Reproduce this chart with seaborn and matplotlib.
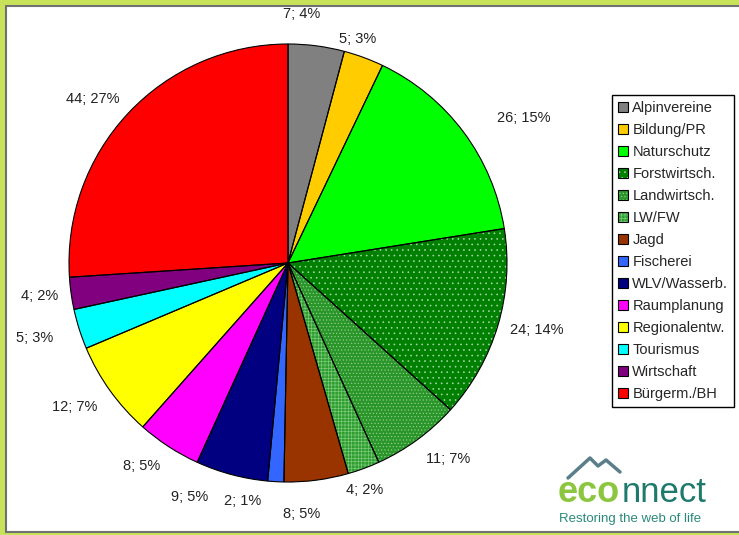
import numpy as np
import matplotlib.pyplot as plt
import seaborn as sns
from matplotlib.patches import Patch, Rectangle
from matplotlib.legend_handler import HandlerTuple

# Daten
categories = ['Alpinvereine', 'Bildung/PR', 'Naturschutz', 'Forstwirtsch.', 'Landwirtsch.',
              'LW/FW', 'Jagd', 'Fischerei', 'WLV/Wasserb.', 'Raumplanung', 'Regionalentw.',
              'Tourismus', 'Wirtschaft', 'Bürgerm./BH']
values = [7, 5, 26, 24, 11, 4, 8, 2, 9, 8, 12, 5, 4, 44]
pct_labels = ['4%', '3%', '15%', '14%', '7%', '2%', '5%', '1%', '5%', '5%', '7%', '3%', '2%', '27%']

# Stil
colors = ['#808080', '#FFCC00', '#00FF00', '#008000', '#2A962A', '#2E9E2E', '#993300',
          '#3366FF', '#000080', '#FF00FF', '#FFFF00', '#00FFFF', '#800080', '#FF0000']
hatches = ['', '', '', '...', '.....', '+++++', '', '', '', '', '', '', '', '']
hatch_colors = ['none', 'none', 'none', '#a8d8a8', '#90d090', '#80cc80',
                'none', 'none', 'none', 'none', 'none', 'none', 'none', 'none']
# Verschiebung der Beschriftungen in Pixeln (x nach rechts, y nach unten), wie in Excel
label_nudge = [(-17, -10), (-11, 3), (21, 2), (-3, 0), (0, 0), (-4, 0), (-17, 12),
               (-32, -3), (-38, 1), (0, 0), (0, 0), (-11, 4), (2, 0), (2, 3)]

sns.set_theme(style='white')
plt.rcParams['font.family'] = ['Liberation Sans', 'DejaVu Sans']
plt.rcParams['hatch.linewidth'] = 0.45

W, H = 739, 535
fig = plt.figure(figsize=(W / 100, H / 100), dpi=100, facecolor='#c8e25a')
# weisses Panel mit grauem Rand
fig.patches.append(Rectangle((6 / W, 3 / H), (W + 10) / W, (H - 9) / H, transform=fig.transFigure,
                             fc='white', ec='#707070', lw=1.5, zorder=-5))

cx, cy, r = 288, 263, 219
ax = fig.add_axes([(cx - r) / W, (H - cy - r) / H, 2 * r / W, 2 * r / H])
ax.set_zorder(2)
wedges, _ = ax.pie(values, colors=colors, startangle=90, counterclock=False,
                   wedgeprops=dict(lw=0))
for w, h, hc in zip(wedges, hatches, hatch_colors):
    if h:
        w.set_edgecolor(hc)
        w.set_hatch(h)
        w.set_linewidth(0)
# schwarze Umrisse
ax.pie(values, colors=['none'] * len(values), startangle=90, counterclock=False,
       wedgeprops=dict(ec='black', lw=0.8, fill=False))
ax.set_xlim(-1, 1)
ax.set_ylim(-1, 1)
ax.axis('off')

# Beschriftungen "Wert; Prozent"
for w, v, p, (dx, dy) in zip(wedges, values, pct_labels, label_nudge):
    ang = np.deg2rad((w.theta1 + w.theta2) / 2)
    c, s = np.cos(ang), np.sin(ang)
    ha = 'center' if abs(c) < 0.35 else ('left' if c > 0 else 'right')
    va = 'center' if abs(s) < 0.35 else ('bottom' if s > 0 else 'top')
    ax.annotate(f'{v}; {p}', xy=(1.07 * c, 1.07 * s), xytext=(dx, -dy),
                textcoords='offset pixels', ha=ha, va=va, fontsize=10.5,
                color='#222222', annotation_clip=False)

# Legende
handles = []
for col, h, hc in zip(colors, hatches, hatch_colors):
    fill = Patch(facecolor=col, edgecolor=hc if h else 'none', hatch=h or None, lw=0)
    outline = Patch(facecolor='none', edgecolor='black', lw=0.8)
    handles.append((fill, outline))
leg = fig.legend(handles, categories, loc='upper left', bbox_to_anchor=(612 / W, 1 - 95 / H),
                 handler_map={tuple: HandlerTuple(ndivide=1)}, fontsize=10.5,
                 frameon=True, fancybox=False, edgecolor='black', framealpha=1,
                 handlelength=0.7, handleheight=0.7, handletextpad=0.3,
                 labelspacing=0.55, borderpad=0.4, borderaxespad=0)
leg.get_frame().set_linewidth(1)
leg.set_zorder(3)

# Logo
fig.text(558 / W, 1 - 493 / H, 'eco', fontsize=26, color='#8cc63f', fontweight='bold', va='center')
fig.text(622 / W, 1 - 493 / H, 'nnect', fontsize=25, color='#1f7a6e', va='center')
fig.text(559 / W, 1 - 519 / H, 'Restoring the web of life', fontsize=9.5, color='#2a8a7a',
         va='center')
fig.lines.append(plt.Line2D(np.array([568, 590, 598, 606, 620]) / W,
                            1 - np.array([478, 458, 466, 460, 472]) / H,
                            transform=fig.transFigure, color='#5b7f8a', lw=2.5))

fig.savefig('out.png', dpi=100, facecolor=fig.get_facecolor())
